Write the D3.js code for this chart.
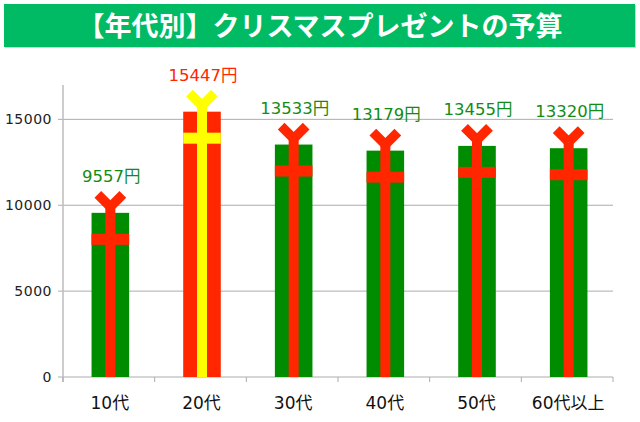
<!DOCTYPE html>
<html>
<head>
<meta charset="utf-8">
<script src="https://cdn.jsdelivr.net/npm/d3@7"></script>
<style>
  body { margin: 0; background: #fff; }
  text { font-family: "DejaVu Sans", "Noto Sans CJK JP", sans-serif; }
</style>
</head>
<body>
<div id="chart"></div>
<script>
// data
var ages = ["10代", "20代", "30代", "40代", "50代", "60代以上"];
var budgets = [9557, 15447, 13533, 13179, 13455, 13320];
var yTicks = [0, 5000, 10000, 15000];
var highlight = "20代";
var title = "【年代別】クリスマスプレゼントの予算";

// set the dimensions and margins of the graph
var margin = {top: 85, right: 27, bottom: 45, left: 63},
    width = 640 - margin.left - margin.right,
    height = 422 - margin.top - margin.bottom;

var green = "#008c00", red = "#ff2600", yellow = "#ffff00";

var svg0 = d3.select("#chart").append("svg")
    .attr("width", 640)
    .attr("height", 422);

// title banner
svg0.append("rect")
    .attr("x", 5).attr("y", 5).attr("width", 631).attr("height", 43)
    .attr("fill", "#c9d3dc");
svg0.append("rect")
    .attr("x", 4).attr("y", 4).attr("width", 631).attr("height", 43)
    .attr("fill", "#00bb64");
svg0.append("text")
    .attr("x", 320).attr("y", 36)
    .attr("text-anchor", "middle")
    .attr("fill", "#fff")
    .style("font-family", "'Noto Sans CJK JP', sans-serif")
    .style("font-weight", "bold")
    .style("font-size", "27px")
    .text(title);

var svg = svg0.append("g")
    .attr("transform", "translate(" + margin.left + "," + margin.top + ")");

// set the ranges
var x = d3.scaleBand().domain(ages).range([0, width]);
var y = d3.scaleLinear().domain([0, 17000]).range([height, 0]);

// gridlines + y labels
svg.selectAll(".grid")
    .data(yTicks)
    .enter().append("line")
    .attr("x1", -5).attr("x2", width)
    .attr("y1", (d) => y(d)).attr("y2", (d) => y(d))
    .attr("stroke", "#acacac")
    .attr("stroke-width", 1);

svg.selectAll(".ylab")
    .data(yTicks)
    .enter().append("text")
    .attr("x", -11)
    .attr("y", (d) => y(d) + 5)
    .attr("text-anchor", "end")
    .attr("fill", "#222")
    .style("font-size", "14px")
    .style("letter-spacing", "0.5px")
    .text((d) => d);

// y axis line
svg.append("line")
    .attr("x1", 0).attr("x2", 0)
    .attr("y1", 0).attr("y2", height + 5)
    .attr("stroke", "#bcbcbc")
    .attr("stroke-width", 1.5);

// x ticks at band edges
var edges = ages.map((d) => x(d)).concat([width]);
svg.selectAll(".xtick")
    .data(edges)
    .enter().append("line")
    .attr("x1", (d) => d).attr("x2", (d) => d)
    .attr("y1", height).attr("y2", height + 5)
    .attr("stroke", "#acacac");

// x labels
svg.selectAll(".xlab")
    .data(ages)
    .enter().append("text")
    .attr("x", (d) => x(d) + x.bandwidth() / 2 + 1)
    .attr("y", height + 32)
    .attr("text-anchor", "middle")
    .attr("fill", "#111")
    .style("font-size", "17px")
    .text((d) => d);

// the presents
var bw = x.bandwidth() * 0.41;
var rib = 10;

var gifts = svg.selectAll(".gift")
    .data(ages)
    .enter().append("g")
    .attr("transform", (d) => "translate(" + (x(d) + x.bandwidth() / 2 + 1.5) + ",0)");

gifts.each(function(d, i) {
    var g = d3.select(this);
    var top = y(budgets[i]);
    var box = d === highlight ? red : green;
    var tie = d === highlight ? yellow : red;

    g.append("rect")
        .attr("x", -bw / 2).attr("y", top)
        .attr("width", bw).attr("height", height - top)
        .attr("fill", box);
    // vertical ribbon
    g.append("rect")
        .attr("x", -rib / 2).attr("y", top - 6)
        .attr("width", rib).attr("height", height - top + 6)
        .attr("fill", tie);
    // horizontal ribbon
    g.append("rect")
        .attr("x", -bw / 2).attr("y", top + 21)
        .attr("width", bw).attr("height", 11)
        .attr("fill", tie);
    // bow
    [-1, 1].forEach(function(s) {
        g.append("line")
            .attr("x1", 0).attr("y1", top - 6)
            .attr("x2", s * 12.5).attr("y2", top - 18.5)
            .attr("stroke", tie)
            .attr("stroke-width", 9.5);
    });
    // value label
    g.append("text")
        .attr("x", 1)
        .attr("y", top - 31)
        .attr("text-anchor", "middle")
        .attr("fill", d === highlight ? red : "#138c13")
        .style("font-size", "16.5px")
        .text(budgets[i] + "円");
});
</script>
</body>
</html>
